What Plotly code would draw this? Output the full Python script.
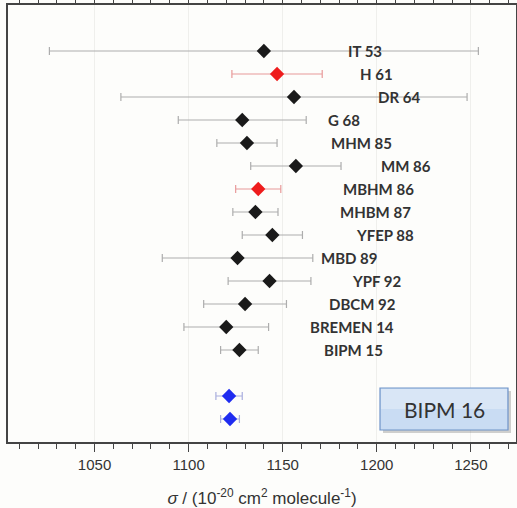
import plotly.graph_objects as go

labels = ["IT 53", "H 61", "DR 64", "G 68", "MHM 85", "MM 86", "MBHM 86",
          "MHBM 87", "YFEP 88", "MBD 89", "YPF 92", "DBCM 92", "BREMEN 14", "BIPM 15"]
rows = [1, 2, 3, 4, 5, 6, 7, 8, 9, 10, 11, 12, 13, 14]
values = [1140, 1147, 1156, 1128.5, 1131, 1157, 1137, 1135.5, 1144.5, 1126, 1143, 1130, 1120, 1127]
errors = [114, 24, 92, 34, 16, 24, 12, 12, 16, 40, 22, 22, 22.5, 10]
highlight = [False, True, False, False, False, False, True,
             False, False, False, False, False, False, False]
label_x = [1193.6, 1200, 1211.7, 1182.4, 1192, 1215.4, 1201,
           1199.5, 1204.3, 1185.6, 1200, 1192.6, 1186.7, 1187.8]

bipm16_rows = [16, 17]
bipm16_values = [1121.5, 1122]
bipm16_errors = [7, 5]

black_idx = [i for i, h in enumerate(highlight) if not h]
red_idx = [i for i, h in enumerate(highlight) if h]

fig = go.Figure()

def add_group(idx_vals, idx_rows, idx_err, mcolor, ecolor):
    fig.add_trace(go.Scatter(
        x=idx_vals, y=idx_rows, mode="markers",
        marker=dict(symbol="diamond", size=11, color=mcolor),
        error_x=dict(type="data", array=idx_err, color=ecolor, thickness=1.2, width=4),
        showlegend=False, hoverinfo="skip"))

add_group([values[i] for i in black_idx], [rows[i] for i in black_idx],
          [errors[i] for i in black_idx], "#1a1a1a", "#adadad")
add_group([values[i] for i in red_idx], [rows[i] for i in red_idx],
          [errors[i] for i in red_idx], "#ee1c1c", "#e89a9a")
add_group(bipm16_values, bipm16_rows, bipm16_errors, "#1f2cf0", "#a9aede")

for lx, r, t in zip(label_x, rows, labels):
    fig.add_annotation(x=lx, y=r, text="<b>" + t + "</b>", showarrow=False,
                       font=dict(family="Lato", size=15, color="#333333"),
                       xanchor="center", yanchor="middle")

PW, PH = 508, 437  # plot area size in px (x 8..516, y 5..442)
# BIPM 16 box
fig.add_shape(type="rect", xref="paper", yref="paper",
              x0=(383 - 8) / PW, x1=(511 - 8) / PW,
              y0=(442 - 433) / PH, y1=(442 - 391) / PH,
              fillcolor="rgba(120,120,120,0.35)", line=dict(width=0), layer="above")
fig.add_shape(type="rect", xref="paper", yref="paper",
              x0=(380 - 8) / PW, x1=(508 - 8) / PW,
              y0=(442 - 430) / PH, y1=(442 - 388) / PH,
              fillcolor="#c9dcf3", line=dict(color="#6f93c8", width=1.2), layer="above")
fig.add_shape(type="rect", xref="paper", yref="paper",
              x0=(381 - 8) / PW, x1=(507 - 8) / PW,
              y0=(442 - 409) / PH, y1=(442 - 389) / PH,
              fillcolor="rgba(255,255,255,0.3)", line=dict(width=0), layer="above")
fig.add_annotation(xref="paper", yref="paper", x=(444 - 8) / PW, y=(442 - 409) / PH,
                   text="BIPM 16", showarrow=False,
                   font=dict(family="Lato", size=21, color="#333333"),
                   xanchor="center", yanchor="middle")

fig.update_layout(
    width=517, height=508,
    margin=dict(l=8, r=1, t=5, b=66, autoexpand=False),
    paper_bgcolor="#fdfdfb", plot_bgcolor="#fdfdfb",
    xaxis=dict(range=[1004, 1274], tickvals=[1050, 1100, 1150, 1200, 1250],
               ticks="outside", ticklen=8, tickwidth=1.2, tickcolor="#444",
               minor=dict(dtick=10, tick0=1000, ticks="outside", ticklen=5,
                          tickcolor="#444", showgrid=False),
               showgrid=True, gridcolor="#efefec", gridwidth=1,
               showline=True, linecolor="#444", linewidth=2, mirror="ticks",
               zeroline=False, automargin=False,
               tickfont=dict(family="Liberation Sans", size=15, color="#333"),
               title=dict(text="<i>σ</i> / (10<sup>-20</sup> cm<sup>2</sup> molecule<sup>-1</sup>)",
                          font=dict(family="Liberation Sans", size=17, color="#333"),
                          standoff=20)),
    yaxis=dict(range=[18, -1], showticklabels=False, ticks="", showgrid=False,
               zeroline=False, showline=True, linecolor="#444", linewidth=2, mirror=True,
               automargin=False),
)

fig.write_html("out.html", config={"displayModeBar": False},
               post_script="document.body.style.margin='0px';document.body.style.overflow='hidden';")
